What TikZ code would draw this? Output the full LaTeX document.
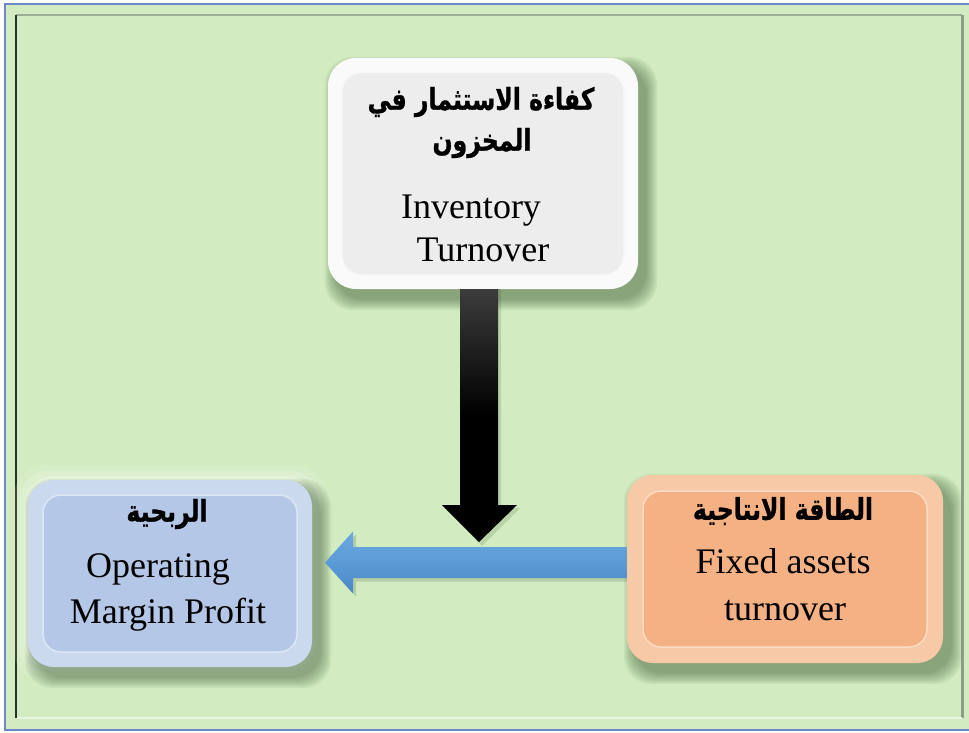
\documentclass[tikz,border=0pt]{standalone}
\usepackage{fontspec}
\setmainfont{Liberation Serif}
\newfontfamily\arabicfont[Script=Arabic,FakeBold=1.2]{DejaVu Sans Bold}
\TeXXeTstate=1
\usetikzlibrary{calc}
\pgfdeclarelayer{bg}
\pgfdeclarelayer{shadow}
\pgfsetlayers{bg,shadow,main}

\definecolor{bggreen}{HTML}{D2EBC1}
\definecolor{frameblue}{HTML}{6A88C6}
\definecolor{framedark}{HTML}{2A2F28}
\definecolor{framegray}{HTML}{8E9E86}
\definecolor{framelight}{HTML}{EAF6E2}
\definecolor{topouter}{HTML}{FAFAFA}
\definecolor{topinner}{HTML}{EDEDED}
\definecolor{leftouter}{HTML}{CBD9EF}
\definecolor{leftinner}{HTML}{B4C7E7}
\definecolor{rightouter}{HTML}{F8C9A6}
\definecolor{rightinner}{HTML}{F4B183}
\definecolor{arrowblue}{HTML}{5B9BD5}
\definecolor{arrowbluetop}{HTML}{6BA8E0}
\definecolor{arrowbluebot}{HTML}{4A88C6}
\definecolor{arrowgray}{HTML}{3C3C3C}
\definecolor{shadowcol}{HTML}{2E4A22}

\tikzset{
  box/.style n args={4}{rounded corners=#4, fill=#1, draw=none, inner sep=0,
    minimum width=#2, minimum height=#3},
  boxcore/.style n args={3}{path picture={
    \fill[#1, draw=white!55!#1, line width=1.5pt, rounded corners=#3]
      ([shift={(#2,-#2)}]path picture bounding box.north west) rectangle
      ([shift={(-#2,#2)}]path picture bounding box.south east);}},
  en/.style={font=\fontsize{36}{40}\selectfont, anchor=base, inner sep=0pt},
  ar/.style={font=\fontsize{24}{30}\arabicfont, inner sep=0pt}
}
\newcommand{\artext}[1]{\scalebox{0.98}[1.25]{\beginR #1\endR}}

\begin{document}
\begin{tikzpicture}[x=1pt,y=-1pt]
\useasboundingbox (0,0) rectangle (969,732);
\begin{pgfonlayer}{bg}
\fill[white] (0,0) rectangle (969,732);
\fill[bggreen] (5,4) rectangle (969,730);
\draw[frameblue, line width=2.5pt] (5,4) rectangle (975,730);
% inner bevel frame
\draw[framegray!80!bggreen, line width=2pt] (16,15) -- (962,15);
\draw[framegray, line width=3pt] (962,15) -- (962,718);
\draw[framelight, line width=2pt] (16,718) -- (962,718);
\draw[framedark, line width=2.5pt] (16,15) -- (16,718);
% glow behind left box
\foreach \g/\o in {14/0.10,9/0.15,4/0.25}{
  \fill[white, opacity=\o, rounded corners=30pt] (28-\g,480-\g) rectangle (312+\g,667+\g);
}
\end{pgfonlayer}

% boxes
\node[box={topouter}{310pt}{231pt}{28pt}, boxcore={topinner}{14pt}{20pt}] (top) at (483,173.5) {};
\node[box={leftouter}{284pt}{187pt}{26pt}, boxcore={leftinner}{15pt}{18pt}] (left) at (170,573.5) {};
\node[box={rightouter}{316pt}{188pt}{26pt}, boxcore={rightinner}{16pt}{18pt}] (right) at (785,569) {};

% soft shadows of the boxes
\begin{pgfonlayer}{shadow}
\foreach \b in {top,left,right}{
  \foreach \k in {0,...,7}{
    \pgfmathsetmacro\e{11-1.5*\k}
    \fill[shadowcol, opacity=0.065, rounded corners=28pt]
      ($(\b.north west)+(8-\e,10-\e)$) rectangle ($(\b.south east)+(8+\e,10+\e)$);
  }
}
\end{pgfonlayer}

% connectors
\coordinate (blueTip) at (325,562.5);
\coordinate (blueStart) at (right.west |- blueTip);
\fill[shadowcol, opacity=0.18] ($(blueStart)+(0,-13)$) -- ($(blueTip)+(31,-13)$) -- ($(blueTip)+(31,-28)$) -- ($(blueTip)+(3,3)$) -- ($(blueTip)+(31,34)$) -- ($(blueTip)+(31,19)$) -- ($(blueStart)+(0,19)$) -- cycle;
\shade[top color=arrowbluetop, bottom color=arrowbluebot, middle color=arrowblue]
  ($(blueStart)+(0,-15.5)$) -- ($(blueTip)+(28,-15.5)$) -- ($(blueTip)+(28,-31)$) -- (blueTip)
  -- ($(blueTip)+(28,31)$) -- ($(blueTip)+(28,15.5)$) -- ($(blueStart)+(0,15.5)$) -- cycle;

\coordinate (blackTip) at (479,542);
\coordinate (blackStart) at (top.south -| blackTip);
\fill[shadowcol, opacity=0.15] ($(blackStart)+(-16,0)$) -- ($(blackStart)+(22,0)$) -- ($(blackTip)+(22,-34)$) -- ($(blackTip)+(41,-34)$) -- ($(blackTip)+(3,4)$) -- ($(blackTip)+(-34,-34)$) -- ($(blackTip)+(-16,-34)$) -- cycle;
\shade[top color=arrowgray, bottom color=black, middle color=black]
  ($(blackStart)+(-19,0)$) -- ($(blackStart)+(19,0)$) -- ($(blackTip)+(19,-37)$) -- ($(blackTip)+(38,-37)$)
  -- (blackTip) -- ($(blackTip)+(-37,-37)$) -- ($(blackTip)+(-19,-37)$) -- cycle;

% texts: top box
\node[ar] (topAr1) at (481,102) {\artext{كفاءة الاستثمار في}};
\node[ar] (topAr2) at (482,143) {\artext{المخزون}};
\node[en] (topEn1) at (471,218) {Inventory};
\node[en] (topEn2) at (483,261) {Turnover};

% texts: left box
\node[ar] (leftAr) at (167,514) {\artext{الربحية}};
\node[en] (leftEn1) at (158,577) {Operating};
\node[en] (leftEn2) at (168,623) {Margin Profit};

% texts: right box
\node[ar] (rightAr) at (783,511) {\artext{الطاقة الانتاجية}};
\node[en] (rightEn1) at (783,573) {Fixed assets};
\node[en] (rightEn2) at (785,620) {turnover};
\end{tikzpicture}
\end{document}
